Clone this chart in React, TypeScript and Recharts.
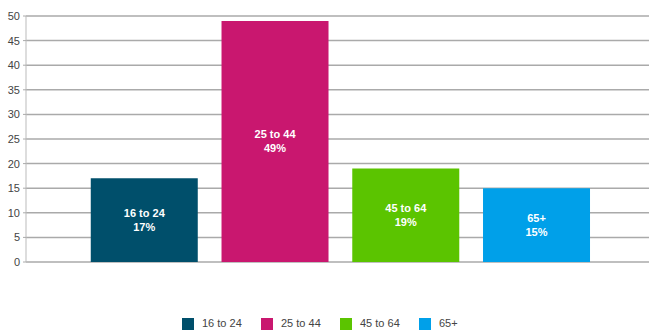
import { BarChart, Bar, XAxis, YAxis, CartesianGrid, Cell, LabelList } from "recharts";

const categories = ["16 to 24", "25 to 44", "45 to 64", "65+"];
const shares = [17, 49, 19, 15];
const colors = ["#004f6b", "#c9176f", "#5bc400", "#00a0e9"];
const yTicks = [0, 5, 10, 15, 20, 25, 30, 35, 40, 45, 50];

const data = categories.map((name, i) => ({ name, value: shares[i] }));

const FONT = "'Liberation Sans', Arial, sans-serif";

function BarText(props: any) {
  const { x, y, width, height, index } = props;
  const cx = x + width / 2;
  const cy = y + height / 2;
  return (
    <text x={cx} textAnchor="middle" fill="#fff" fontSize={11} fontWeight="bold" fontFamily={FONT}>
      <tspan x={cx} y={cy - 3}>{categories[index]}</tspan>
      <tspan x={cx} y={cy + 11}>{shares[index]}%</tspan>
    </text>
  );
}

export default function App() {
  return (
    <div style={{ position: "absolute", left: 0, top: 0, width: 649, height: 334, background: "#fff", fontFamily: FONT }}>
      <BarChart width={649} height={334} data={data} margin={{ top: 16, right: 0, left: 0, bottom: 72 }} barCategoryGap="9%">
        <CartesianGrid stroke="#aaa" strokeWidth={1.5} vertical={false} />
        <XAxis
          dataKey="name"
          tick={false}
          tickLine={false}
          axisLine={{ stroke: "#999", strokeWidth: 1.5 }}
          padding={{ left: 53, right: 47 }}
          height={0}
        />
        <YAxis
          domain={[0, 50]}
          ticks={yTicks}
          interval={0}
          width={26}
          tickSize={3}
          tickMargin={3}
          tickLine={{ stroke: "#aaa" }}
          axisLine={{ stroke: "#bbb" }}
          tick={{ fill: "#444", fontSize: 11, fontFamily: FONT }}
        />
        <Bar dataKey="value" isAnimationActive={false}>
          {data.map((d, i) => (
            <Cell key={d.name} fill={colors[i]} />
          ))}
          <LabelList dataKey="value" content={<BarText />} />
        </Bar>
      </BarChart>
      <div style={{ position: "absolute", top: 317, left: 182, display: "flex", fontSize: 11, color: "#444", lineHeight: "13px" }}>
        {categories.map((c, i) => (
          <div key={c} style={{ display: "flex", alignItems: "center", width: i < 3 ? 79 : 40 }}>
            <span style={{ width: 12, height: 12, background: colors[i], marginRight: 8, display: "inline-block" }} />
            <span>{c}</span>
          </div>
        ))}
      </div>
    </div>
  );
}
